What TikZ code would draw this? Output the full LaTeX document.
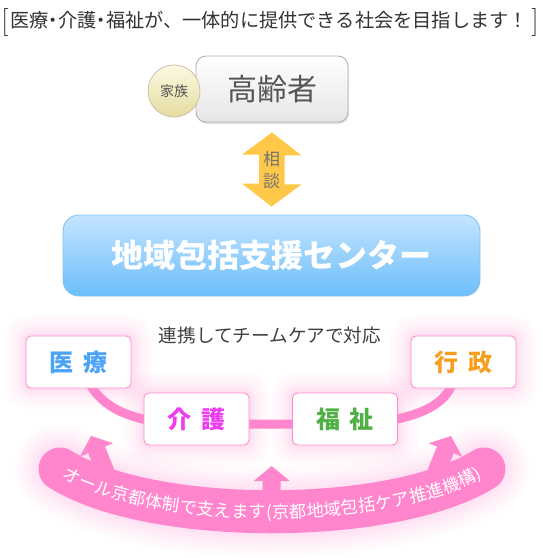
\documentclass[tikz,border=0pt]{standalone}
\usepackage{fontspec}
\newfontfamily\cjk{Noto Sans CJK JP}
\usetikzlibrary{decorations.text,calc,backgrounds}
\definecolor{bandpink}{RGB}{255,134,204}
\definecolor{glowpink}{RGB}{255,140,212}
\definecolor{boxborder}{RGB}{247,140,205}
\definecolor{medblue}{RGB}{75,163,245}
\definecolor{kaigocol}{RGB}{238,60,240}
\definecolor{fukucol}{RGB}{80,176,70}
\definecolor{gyocol}{RGB}{245,160,30}
\definecolor{arrowyel}{RGB}{255,200,72}
\definecolor{txtgrey}{RGB}{85,85,85}
\definecolor{darktxt}{RGB}{51,51,51}
\newcommand\nakaguro{\kern-0.25em・\kern-0.25em}
\tikzset{
  carebox/.style={draw=boxborder, line width=0.8pt, fill=white, rounded corners=5pt,
    minimum width=105pt, minimum height=52pt, inner sep=0pt,
    font=\cjk\bfseries\fontsize{24}{24}\selectfont,
    preaction={draw=glowpink, line width=42pt, opacity=0.03},
    preaction={draw=glowpink, line width=34pt, opacity=0.035},
    preaction={draw=glowpink, line width=26pt, opacity=0.04},
    preaction={draw=glowpink, line width=18pt, opacity=0.05},
    preaction={draw=glowpink, line width=11pt, opacity=0.06},
    preaction={draw=glowpink, line width=5pt, opacity=0.08}},
  bandline/.style={draw=bandpink, line cap=round},
  arrowfill/.style={fill=bandpink}
}
\begin{document}
\begin{tikzpicture}[x=1pt,y=-1pt]
\useasboundingbox (0,0) rectangle (543,558);

% title
\node[font=\fontsize{28}{28}\selectfont, text=darktxt, inner sep=0pt] (lbr) at (5,22) {[};
\node[font=\fontsize{28}{28}\selectfont, text=darktxt, inner sep=0pt] (rbr) at (535,22) {]};
\node[font=\cjk\fontsize{19.2}{20}\selectfont, text=darktxt, inner sep=0pt] (title) at (269,20)
  {医療\nakaguro 介護\nakaguro 福祉が、一体的に提供できる社会を目指します！};

% elderly box
\node[draw=black!30, line width=0.9pt, rounded corners=10pt, top color=white, bottom color=black!10,
  minimum width=152pt, minimum height=66pt,
  preaction={fill=black, opacity=0.12, transform canvas={xshift=1pt,yshift=-2pt}},
  font=\cjk\fontsize{30}{30}\selectfont, text=txtgrey] (elder) at (272,89) {高齢者};
\node[circle, draw=black!30!brown!40, line width=0.8pt, top color={rgb,255:red,252;green,249;blue,226},
  bottom color={rgb,255:red,228;green,220;blue,160}, minimum size=52pt, inner sep=0pt,
  font=\cjk\fontsize{14}{14}\selectfont, text=txtgrey] (family) at (174,91) {家族};

% center box
\node[draw={rgb,255:red,134;green,194;blue,242}, line width=0.9pt, rounded corners=16pt,
  top color={rgb,255:red,196;green,228;blue,255}, bottom color={rgb,255:red,108;green,190;blue,250},
  minimum width=417pt, minimum height=81pt,
  font=\cjk\bfseries\fontsize{32}{32}\selectfont, text=white] (center) at (271.5,255.5) {地域包括支援センター};

% consultation double arrow
\fill[arrowyel] ($(elder.south)+(0,10)$) -- ++(29.5,23) -- ++(-17,0) -- ++(0,29) -- ++(17,0)
  -- ($(center.north)+(0,-8)$) -- ++(-29.5,-23) -- ++(17,0) -- ++(0,-29) -- ++(-17,0) -- cycle;
\node[align=center, font=\cjk\fontsize{17}{22}\selectfont, text=black!55, inner sep=0pt] (soudan) at (271.5,170) {相\\談};

% bottom band with arrows
\foreach \w/\o in {48/0.03,40/0.035,32/0.04,24/0.045,16/0.05,8/0.06}{
  \draw[glowpink, line cap=round, line width=42pt+\w pt, opacity=\o] (60,469) .. controls (150,526) and (392,526) .. (484,469);
}
\draw[bandline, line width=43pt] (60,469) .. controls (150,526) and (392,526) .. (484,469);
\begin{scope}[shift={(91,436)}, rotate=22]
\fill[arrowfill] (0,0) -- (18,15) -- (9,15) -- (9,45) -- (-9,45) -- (-9,15) -- (-18,15) -- cycle;
\end{scope}
\begin{scope}[shift={(271.7,466)}]
\fill[arrowfill] (0,0) -- (18,15) -- (9,15) -- (9,40) -- (-9,40) -- (-9,15) -- (-18,15) -- cycle;
\end{scope}
\begin{scope}[shift={(451,436)}, rotate=-22]
\fill[arrowfill] (0,0) -- (18,15) -- (9,15) -- (9,45) -- (-9,45) -- (-9,15) -- (-18,15) -- cycle;
\end{scope}
\path[decorate, decoration={text along path, text align=center, raise=-6.5pt,
  text={|\cjk\fontsize{17.3}{17.3}\selectfont\color{white}|オール京都体制で支えます(京都地域包括ケア推進機構)}}]
  (60,469) .. controls (150,526) and (392,526) .. (484,469);

% care nodes
\node[carebox, text=medblue] (iryo) at (78.5,362) {医\hspace{0.4em}療};
\node[carebox, text=gyocol] (gyosei) at (463.5,362) {行\hspace{0.4em}政};
\node[carebox, text=kaigocol] (kaigo) at (196.5,419) {介\hspace{0.4em}護};
\node[carebox, text=fukucol] (fukushi) at (345,419) {福\hspace{0.4em}祉};

\begin{scope}[on background layer]
\fill[white] (0,0) rectangle (543,558);
\draw[draw=bandpink, line width=9pt] ($(iryo.south)+(12,-3)$) .. controls (110,417) and (150,424) .. (200,424)
  -- (340,424) .. controls (392,424) and (440,414) .. ($(gyosei.south)+(-12,-3)$);
\end{scope}

\node[font=\cjk\fontsize{18.6}{18.6}\selectfont, text=black!75, inner sep=0pt] (renkei) at (270,335) {連携してチームケアで対応};
\end{tikzpicture}
\end{document}
